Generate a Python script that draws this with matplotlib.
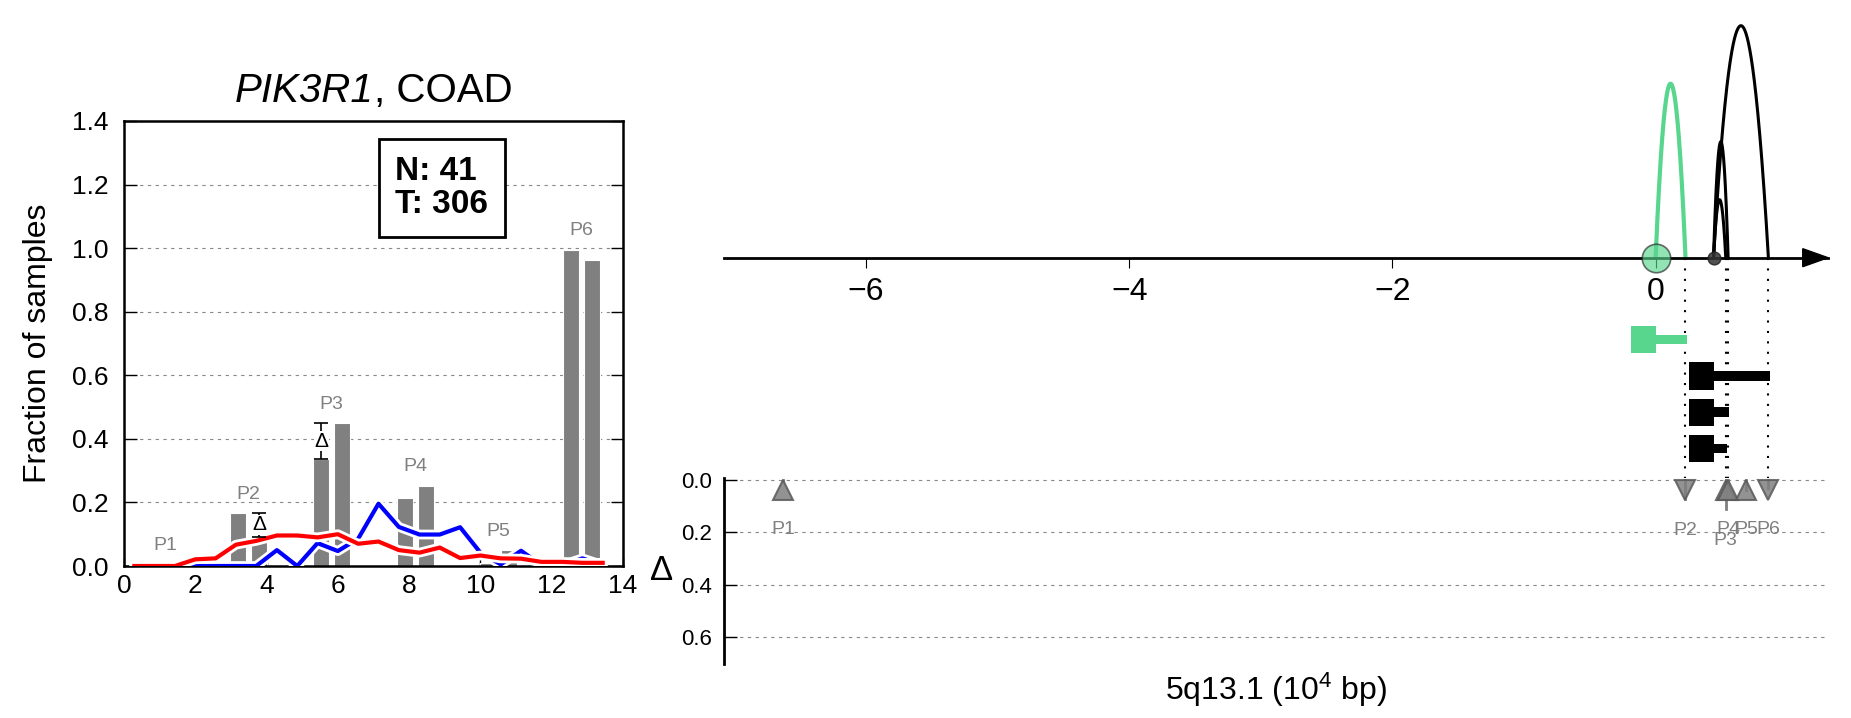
import numpy as np
import matplotlib
matplotlib.use('Agg')
import matplotlib.pyplot as plt
import matplotlib.patheffects as pe
from matplotlib.patches import Rectangle, Polygon
from matplotlib.transforms import ScaledTranslation

plt.rcParams['font.family'] = ['Liberation Sans', 'DejaVu Sans']
plt.rcParams['mathtext.fontset'] = 'custom'
plt.rcParams['mathtext.rm'] = 'Liberation Sans'
plt.rcParams['mathtext.it'] = 'Liberation Sans:italic'
plt.rcParams['mathtext.bf'] = 'Liberation Sans:bold'

# ---- left panel: peak usage fractions (normal vs tumour) ----
gene, cancer = 'PIK3R1', 'COAD'
peak_names = ['P1', 'P2', 'P3', 'P4', 'P5', 'P6']
peak_centers = [1.17, 3.5, 5.83, 8.17, 10.5, 12.83]
frac_normal = [0.0, 0.166, 0.3375, 0.2135, 0.01, 0.994]
frac_tumor = [0.003, 0.092, 0.449, 0.253, 0.05, 0.962]
show_delta = [False, True, True, False, False, False]

bin_x = [0.29, 0.86, 1.43, 2.0, 2.57, 3.14, 3.71, 4.29, 4.86, 5.43, 6.0, 6.57,
         7.14, 7.71, 8.29, 8.86, 9.43, 10.0, 10.57, 11.14, 11.71, 12.29, 12.86, 13.43]
dist_normal = [0, 0, 0, 0, 0, 0, 0, 0.05, 0, 0.072, 0.047, 0.086,
               0.196, 0.123, 0.099, 0.099, 0.122, 0.042, 0.005, 0.048, 0.003, 0.003, 0.024, 0.003]
dist_tumor = [0, 0, 0, 0.021, 0.024, 0.067, 0.079, 0.096, 0.096, 0.09, 0.1, 0.07,
              0.077, 0.05, 0.042, 0.058, 0.025, 0.033, 0.024, 0.023, 0.013, 0.013, 0.01, 0.01]
n_normal, n_tumor = 41, 306

# ---- right panel: arcs (genomic coordinates, 10^4 bp) ----
arc_start = [0.0, 0.44, 0.44, 0.44]
arc_end = [0.227, 0.857, 0.551, 0.533]
arc_weight = [3, 4, 2, 1]
arc_color = ['#58D68D', 'black', 'black', 'black']
peak_pos = [-6.63, 0.227, 0.533, 0.551, 0.688, 0.857]

W, H = 1851, 718
fig = plt.figure(figsize=(W / 100, H / 100), dpi=100)
grey = '#808080'

# ================= left panel =================
ax = fig.add_axes([124 / W, 1 - 566 / H, 499 / W, 445 / H])
off, bw = 0.29, 0.45
pc = np.array(peak_centers)
ax.bar(pc - off, frac_normal, width=bw, color=grey, edgecolor='white', lw=0.8, zorder=2)
ax.bar(pc + off, frac_tumor, width=bw, color=grey, edgecolor='white', lw=0.8, zorder=2)

stroke = [pe.Stroke(linewidth=7, foreground='white'), pe.Normal()]
ax.plot(bin_x, dist_normal, color='blue', lw=3, path_effects=stroke, zorder=3)
ax.plot(bin_x, dist_tumor, color='red', lw=3, path_effects=stroke, zorder=4)

for c, n, t, name, sd in zip(peak_centers, frac_normal, frac_tumor, peak_names, show_delta):
    ax.text(c, max(n, t) + 0.06, name, ha='center', va='center', color=grey,
            fontsize=14, zorder=5)
    if sd:
        lo, hi = min(n, t), max(n, t)
        xx = c - off if n < t else c + off
        ax.errorbar(xx, (lo + hi) / 2, yerr=(hi - lo) / 2, fmt='none', ecolor='black',
                    elinewidth=1.2, capsize=5, capthick=1.2, zorder=6)
        ax.text(xx, (lo + hi) / 2, '\u0394', ha='center', va='center', fontsize=15,
                bbox=dict(fc='white', ec='none', pad=0.5), zorder=7)

ax.text(8.92, 1.19, 'N: %d\nT: %d' % (n_normal, n_tumor), ha='center', va='center',
        ma='left', fontsize=24, fontweight='bold', linespacing=1.1, zorder=8,
        bbox=dict(boxstyle='square,pad=0.5', fc='white', ec='black', lw=2))

ax.set_xlim(0, 14)
ax.set_ylim(0, 1.4)
ax.set_xticks(range(0, 15, 2))
ax.set_yticks(np.arange(0, 1.41, 0.2))
ax.set_yticklabels(['%.1f' % v for v in np.arange(0, 1.41, 0.2)])
ax.set_axisbelow(True)
ax.yaxis.grid(True, ls=(0, (3, 4)), color='#888888', lw=0.8)
ax.tick_params(axis='y', direction='in', length=9, width=1, labelsize=19, pad=11,
               right=True)
ax.tick_params(axis='x', direction='in', length=6, width=1, labelsize=19, pad=6)
for s in ax.spines.values():
    s.set_linewidth(1.8)
ax.set_ylabel('Fraction of samples', fontsize=23, labelpad=14)

# title: italic gene name followed by upright cancer type, centred on the axes
fig.canvas.draw()
rend = fig.canvas.get_renderer()
t1 = ax.text(0.5, 1.025, gene, transform=ax.transAxes, ha='left', va='bottom',
             fontsize=29, style='italic')
t2 = ax.text(0.5, 1.025, ', ' + cancer, transform=ax.transAxes, ha='left', va='bottom',
             fontsize=29)
w1 = t1.get_window_extent(rend).width
w2 = t2.get_window_extent(rend).width
axw = ax.get_window_extent(rend).width
x0 = 0.5 - (w1 + w2) / 2 / axw
t1.set_x(x0)
t2.set_x(x0 + w1 / axw)

# ================= right top: arcs =================
axt = fig.add_axes([724 / W, 1 - 478 / H, 1104 / W, 478 / H])
axt.patch.set_visible(False)
axt.set_xlim(-7.08, 1.31)
axt.set_ylim(-220.3, 257.7)   # 1 unit = 1 pixel
for s in ['top', 'right', 'left']:
    axt.spines[s].set_visible(False)
axt.spines['bottom'].set_position(('data', 0))
axt.spines['bottom'].set_linewidth(2)
axt.set_xticks([-6, -4, -2, 0])
axt.set_xticklabels(['\u22126', '\u22124', '\u22122', '0'])
axt.tick_params(axis='x', direction='out', length=7, width=0.8, labelsize=23, pad=7)
axt.set_yticks([])
axt.add_patch(Polygon([(1.118, -9), (1.118, 9), (1.31, 0)], closed=True,
                      fc='black', ec='black', clip_on=False, zorder=3))

arc_unit = 58.0
tt = np.linspace(0, 1, 200)
for s, e, w, col in zip(arc_start, arc_end, arc_weight, arc_color):
    lw = 3 if col != 'black' else 2.2
    axt.plot(s + (e - s) * tt, w * arc_unit * 4 * tt * (1 - tt), color=col, lw=lw, zorder=2)

for r, (s, e, col) in enumerate(zip(arc_start, arc_end, arc_color)):
    yc = -82 - 36.2 * r
    axt.add_patch(Rectangle((s - 0.185, yc - 13.6), 0.19, 27.2, fc=col, ec='none', zorder=3))
    axt.add_patch(Rectangle((s, yc - 4.75), e - s + 0.01, 9.5, fc=col, ec='none', zorder=3))

for e in arc_end:
    axt.plot([e, e], [0, -220.3], color='black', lw=1.5, ls=(0, (1, 4)), zorder=1,
             clip_on=False)

axt.scatter([arc_start[0]], [0], s=420, fc=arc_color[0], ec='#222222', lw=1.2,
            alpha=0.65, zorder=4)
axt.scatter([arc_start[1]], [0], s=85, fc='#333333', ec='#222222', alpha=0.85, zorder=4)

# ================= right bottom: delta markers =================
axd = fig.add_axes([724 / W, 1 - 664 / H, 1104 / W, 186 / H])
axd.set_xlim(-7.08, 1.31)
axd.set_ylim(0.702, -0.0076)
for s in ['top', 'right', 'bottom']:
    axd.spines[s].set_visible(False)
axd.spines['left'].set_linewidth(2)
axd.set_xticks([])
axd.set_yticks([0, 0.2, 0.4, 0.6])
axd.set_yticklabels(['0.0', '0.2', '0.4', '0.6'])
axd.tick_params(axis='y', direction='in', length=9, width=1, labelsize=16, pad=9)
axd.yaxis.grid(True, ls=(0, (3, 4)), color='#888888', lw=0.8)
axd.set_ylabel('\u0394', rotation=0, fontsize=25, labelpad=14, va='center')
axd.set_xlabel('5q13.1 (10$^4$ bp)', fontsize=23, labelpad=5)

delta = np.array(frac_tumor) - np.array(frac_normal)
shift = axd.transData + ScaledTranslation(0, -7.5 / 72, fig.dpi_scale_trans)
for x, d, name in zip(peak_pos, delta, peak_names):
    mk = '^' if d >= 0 else 'v'
    axd.plot([x, x], [0, abs(d)], color=grey, lw=2, zorder=2)
    axd.plot([x], [0], marker=mk, ms=15, mfc=grey, mec='#5a5a5a', mew=1.5, alpha=0.85,
             transform=shift, zorder=3, clip_on=False)
    axd.text(x, max(abs(d), 0.07) + 0.12, name, ha='center', va='center', color=grey,
             fontsize=14)

fig.savefig('out.png', dpi=100)
